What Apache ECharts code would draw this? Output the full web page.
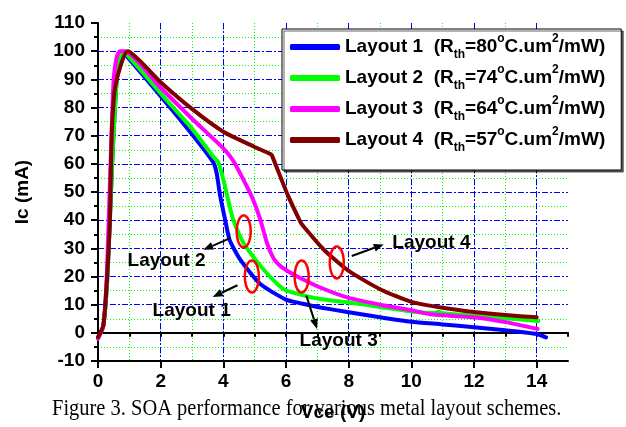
<!DOCTYPE html>
<html>
<head>
<meta charset="utf-8">
<script src="https://cdn.jsdelivr.net/npm/echarts@6/dist/echarts.min.js"></script>
<style>
  html, body { margin: 0; padding: 0; background: #fff; }
  #chart { width: 626px; height: 427px; }
</style>
</head>
<body>
<div id="chart"></div>
<script>
// SOA curves, Vce (V) vs Ic (mA)
const layout1 = [[0,-2],[0.17,2.5],[0.3,20],[0.45,60],[0.6,90],[0.75,99.5],[0.85,99],[2,84],[3,70.5],[3.68,60.5],[3.79,56.5],[3.9,48.5],[4.06,40],[4.2,33],[4.54,26],[5.18,17.3],[6,11.8],[6.5,10.4],[7,9.2],[8,7.3],[9,5.5],[10,3.9],[11,3],[12,2],[13,0.9],[14,-0.4],[14.3,-1.6]];
const layout2 = [[0,-2],[0.17,2.5],[0.3,20],[0.45,60],[0.6,90],[0.75,99.5],[0.9,99],[2,85],[3,72.5],[3.68,62.5],[3.84,60.5],[4,54.4],[4.2,45],[4.32,40],[4.64,32],[5.18,23.8],[5.92,15.5],[6.5,13.5],[7.09,12],[8,10.8],[9,9.2],[10,7.6],[10.8,7],[10.85,7.5],[11,7],[12,6.1],[13,5.2],[14.05,4.2]];
const layout3 = [[0,-2],[0.17,2.5],[0.28,20],[0.4,60],[0.5,90],[0.6,98],[0.7,100],[0.85,100],[2,87],[3,76],[4,65.5],[4.32,61],[4.75,52],[4.96,47],[5.18,40.2],[5.39,32],[5.6,26.5],[5.81,23.8],[6.13,21.4],[6.5,19.2],[7.09,16.1],[8,12.4],[9,10],[10,8],[10.6,6.6],[12,5.5],[13,3.8],[14.03,1.4]];
const layout4 = [[0,-1.5],[0.17,2.6],[0.28,18],[0.38,40],[0.44,71],[0.56,88],[0.95,100],[2,89],[3,79.5],[4,71.4],[5,66],[5.5,63.5],[5.55,63],[6.03,49.6],[6.45,39.6],[6.55,37.9],[7.2,29.6],[8,22],[9,15.5],[10,11],[11,8.9],[12,7.4],[13,6.3],[14,5.5]];

const seriesNames = ['Layout 1', 'Layout 2', 'Layout 3', 'Layout 4'];
const rthValues = [80, 74, 64, 57];
const colors = ['#0000ff', '#00ff00', '#ff00ff', '#800000'];

// annotations (data coords)
const ellipseCenters = [[4.65, 36], [4.91, 20], [6.5, 20], [7.62, 25]];
const arrowLines = [[4.22, 33.6, 3.36, 29.5], [4.45, 16.9, 3.66, 12.7], [6.65, 13.2, 6.99, 1.4], [8.1, 27.3, 9.12, 31.4]];
const labelPos = [[2.19, 25.5], [2.99, 7.9], [7.68, -2.7], [10.64, 32]];
const labelText = ['Layout 2', 'Layout 1', 'Layout 3', 'Layout 4'];

const FONT = 'Liberation Sans, Arial, sans-serif';

const chart = echarts.init(document.getElementById('chart'), null, { renderer: 'canvas' });

const lineSeries = [layout1, layout2, layout3, layout4].map((d, i) => ({
  name: seriesNames[i],
  type: 'line',
  data: d,
  showSymbol: false,
  smooth: 0.2,
  z: 3 + i,
  color: colors[i],
  lineStyle: { color: colors[i], width: 4, cap: 'round', join: 'round' }
}));

const option = {
  animation: false,
  backgroundColor: '#fff',
  grid: { left: 98, right: 58, top: 23, bottom: 64 },
  legend: {
    orient: 'vertical',
    left: 282,
    top: 29,
    padding: [4, 16, 16, 8],
    itemGap: 3,
    itemWidth: 50,
    itemHeight: 6,
    icon: 'roundRect',
    backgroundColor: '#fff',
    borderColor: '#000',
    borderWidth: 1,
    shadowColor: 'rgba(0,0,0,0.6)',
    shadowOffsetX: 2,
    shadowOffsetY: 2,
    shadowBlur: 0,
    data: seriesNames,
    formatter: function (name) {
      const i = seriesNames.indexOf(name);
      return '{n|' + name + '  (R}{sb|th}{n|=' + rthValues[i] + '}{sp|o}{n|C.um}{sp|2}{n|/mW)}';
    },
    textStyle: {
      rich: {
        n: { fontFamily: FONT, fontSize: 19, fontWeight: 'bold', color: '#000', lineHeight: 28 },
        sb: { fontFamily: FONT, fontSize: 12, fontWeight: 'bold', color: '#000', lineHeight: 14, verticalAlign: 'bottom' },
        sp: { fontFamily: FONT, fontSize: 12, fontWeight: 'bold', color: '#000', lineHeight: 14, verticalAlign: 'top' }
      }
    }
  },
  xAxis: [
    {
      type: 'value', min: 0, max: 15, interval: 1, position: 'bottom',
      axisLine: { show: true, lineStyle: { color: '#000', width: 2 } },
      axisTick: { show: true, length: 4, lineStyle: { color: '#000', width: 2 } },
      axisLabel: { show: false },
      splitLine: { show: true, showMinLine: false, showMaxLine: false, lineStyle: { color: '#00ff00', width: 1, type: [1, 2] } }
    },
    {
      type: 'value', min: 0, max: 15, interval: 2, position: 'bottom',
      name: 'Vce (V)', nameLocation: 'middle', nameGap: 42,
      nameTextStyle: { fontFamily: FONT, fontSize: 19, fontWeight: 'bold', color: '#000' },
      axisLine: { show: true, lineStyle: { color: '#000', width: 2 } },
      axisTick: { show: true, length: 7, lineStyle: { color: '#000', width: 2 } },
      axisLabel: { show: true, showMaxLabel: false, margin: 11, fontFamily: FONT, fontSize: 19, fontWeight: 'bold', color: '#000' },
      splitLine: { show: true, showMinLine: false, showMaxLine: false, lineStyle: { color: '#0000ff', width: 1, type: [6, 2, 2, 2] } }
    }
  ],
  yAxis: {
    type: 'value', min: -10, max: 110, interval: 10,
    name: 'Ic (mA)', nameLocation: 'middle', nameGap: 66,
    nameTextStyle: { fontFamily: FONT, fontSize: 19, fontWeight: 'bold', color: '#000' },
    axisLine: { show: true, lineStyle: { color: '#000', width: 2 } },
    axisTick: { show: true, length: 7, lineStyle: { color: '#000', width: 2 } },
    minorTick: { show: true, splitNumber: 2, length: 4, lineStyle: { color: '#000', width: 2 } },
    axisLabel: { margin: 13, fontFamily: FONT, fontSize: 19, fontWeight: 'bold', color: '#000' },
    splitLine: { show: true, showMinLine: false, showMaxLine: false, lineStyle: { color: '#0000ff', width: 1, type: [6, 2, 2, 2] } },
    minorSplitLine: { show: true, lineStyle: { color: '#00ff00', width: 1, type: [1, 2] } }
  },
  graphic: [
    {
      type: 'text', x: 52, y: 409, scaleX: 0.89,
      style: { text: 'Figure 3. SOA performance for various metal layout schemes.', font: '23px "Liberation Serif", "Times New Roman", serif', fill: '#000', verticalAlign: 'middle' },
      z: 100
    }
  ],
  series: lineSeries.concat([
    {
      name: 'ellipses', type: 'custom', data: ellipseCenters, z: 10, silent: true,
      renderItem: function (params, api) {
        const c = api.coord([api.value(0), api.value(1)]);
        const pts = [];
        for (let k = 0; k < 48; k++) {
          const a = k / 48 * Math.PI * 2;
          pts.push([c[0] + 7 * Math.cos(a), c[1] + 16 * Math.sin(a)]);
        }
        return { type: 'polygon', shape: { points: pts }, style: { fill: 'none', stroke: '#ff0000', lineWidth: 2.5 } };
      }
    },
    {
      name: 'arrows', type: 'custom', data: arrowLines, z: 10, silent: true,
      renderItem: function (params, api) {
        const p1 = api.coord([api.value(0), api.value(1)]);
        const p2 = api.coord([api.value(2), api.value(3)]);
        const dx = p2[0] - p1[0], dy = p2[1] - p1[1];
        const len = Math.sqrt(dx * dx + dy * dy);
        const ux = dx / len, uy = dy / len;
        const hl = 10, hw = 4;
        const bx = p2[0] - ux * hl, by = p2[1] - uy * hl;
        return {
          type: 'group',
          children: [
            { type: 'line', shape: { x1: p1[0], y1: p1[1], x2: bx, y2: by }, style: { stroke: '#000', lineWidth: 2 } },
            { type: 'polygon', shape: { points: [[p2[0], p2[1]], [bx - uy * hw, by + ux * hw], [bx + uy * hw, by - ux * hw]] }, style: { fill: '#000' } }
          ]
        };
      }
    },
    {
      name: 'labels', type: 'custom', data: labelPos, z: 10, silent: true,
      renderItem: function (params, api) {
        const c = api.coord([api.value(0), api.value(1)]);
        return {
          type: 'text', x: c[0], y: c[1],
          style: { text: labelText[params.dataIndex], font: 'bold 19px ' + FONT, fill: '#000', align: 'center', verticalAlign: 'middle' }
        };
      }
    }
  ])
};

chart.setOption(option);
</script>
</body>
</html>
